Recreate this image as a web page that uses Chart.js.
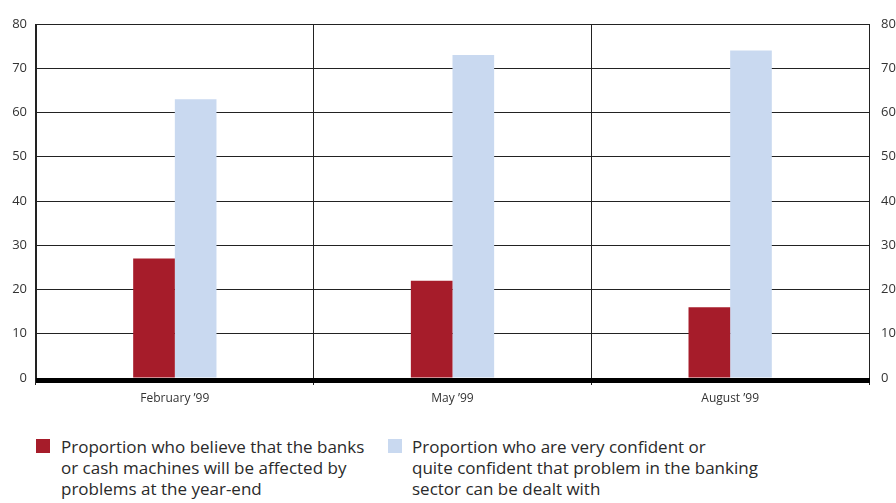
<!DOCTYPE html>
<html>
<head>
<meta charset="utf-8">
<script src="https://cdn.jsdelivr.net/npm/chart.js@4"></script>
<style>
  body { margin: 0; background: #fff; font-family: "Open Sans", sans-serif; }
  #wrap { position: relative; width: 896px; height: 503px; overflow: hidden; }
  #chartBox { position: absolute; left: 0; top: 0; width: 896px; height: 410px; }
  .legend { position: absolute; top: 436px; font-size: 17px; line-height: 21px; color: #2a2a2a; }
  .legend .box { position: absolute; left: 0; top: 3px; width: 14px; height: 14px; }
  .legend .txt { position: absolute; white-space: nowrap; }
</style>
</head>
<body>
<div id="wrap">
  <div id="chartBox"><canvas id="myChart"></canvas></div>
  <div class="legend" style="left:36px"><div class="box" style="background:#a61c2a"></div><div class="txt" id="leg0" style="left:25px"></div></div>
  <div class="legend" style="left:388px"><div class="box" style="background:#c9d9f0"></div><div class="txt" id="leg1" style="left:24px"></div></div>
</div>
<script>
const categories = ['February \u201999', 'May \u201999', 'August \u201999'];
const affected = [27, 22, 16];
const confident = [63, 73, 74];
const yTicks = [0, 10, 20, 30, 40, 50, 60, 70, 80];
const seriesNames = [
  ['Proportion who believe that the banks', 'or cash machines will be affected by', 'problems at the year-end'],
  ['Proportion who are very confident or', 'quite confident that problem in the banking', 'sector can be dealt with']
];

document.getElementById('leg0').innerHTML = seriesNames[0].join('<br>');
document.getElementById('leg1').innerHTML = seriesNames[1].join('<br>');

// thick black base line under the bars
const baseLine = {
  id: 'baseLine',
  afterDraw(chart) {
    const ctx = chart.ctx;
    const a = chart.chartArea;
    ctx.save();
    ctx.fillStyle = '#000';
    ctx.fillRect(a.left, a.bottom, a.right - a.left + 1, 5);
    ctx.restore();
  }
};

const tickFont = { family: 'Open Sans', size: 13 };

new Chart(document.getElementById('myChart'), {
  type: 'bar',
  data: {
    labels: categories,
    datasets: [
      { label: seriesNames[0].join(' '), data: affected, backgroundColor: '#a61c2a' },
      { label: seriesNames[1].join(' '), data: confident, backgroundColor: '#c9d9f0' }
    ]
  },
  options: {
    responsive: true,
    maintainAspectRatio: false,
    animation: false,
    layout: { padding: { top: 24, left: 0, right: 0, bottom: 0 } },
    plugins: { legend: { display: false }, tooltip: { enabled: false } },
    datasets: { bar: { categoryPercentage: 0.3, barPercentage: 1 } },
    scales: {
      x: {
        grid: { color: '#222', lineWidth: 1, tickLength: 7, offset: true },
        border: { display: false },
        ticks: { color: '#333', font: { family: 'Open Sans', size: 12 }, padding: 6 },
        afterFit(scale) { scale.height = 32; }
      },
      y: {
        position: 'left',
        min: 0,
        max: 80,
        afterBuildTicks(scale) { scale.ticks = yTicks.map(v => ({ value: v })); },
        grid: { color: '#222', lineWidth: 1, drawTicks: false },
        border: { color: '#222', width: 1 },
        ticks: { color: '#333', font: tickFont, padding: 9 },
        afterFit(scale) { scale.width = 36; }
      },
      y2: {
        position: 'right',
        min: 0,
        max: 80,
        afterBuildTicks(scale) { scale.ticks = yTicks.map(v => ({ value: v })); },
        grid: { display: false, drawTicks: false },
        border: { color: '#222', width: 1 },
        ticks: { color: '#333', font: tickFont, padding: 12 },
        afterFit(scale) { scale.width = 27; }
      }
    }
  },
  plugins: [baseLine]
});
</script>
</body>
</html>
